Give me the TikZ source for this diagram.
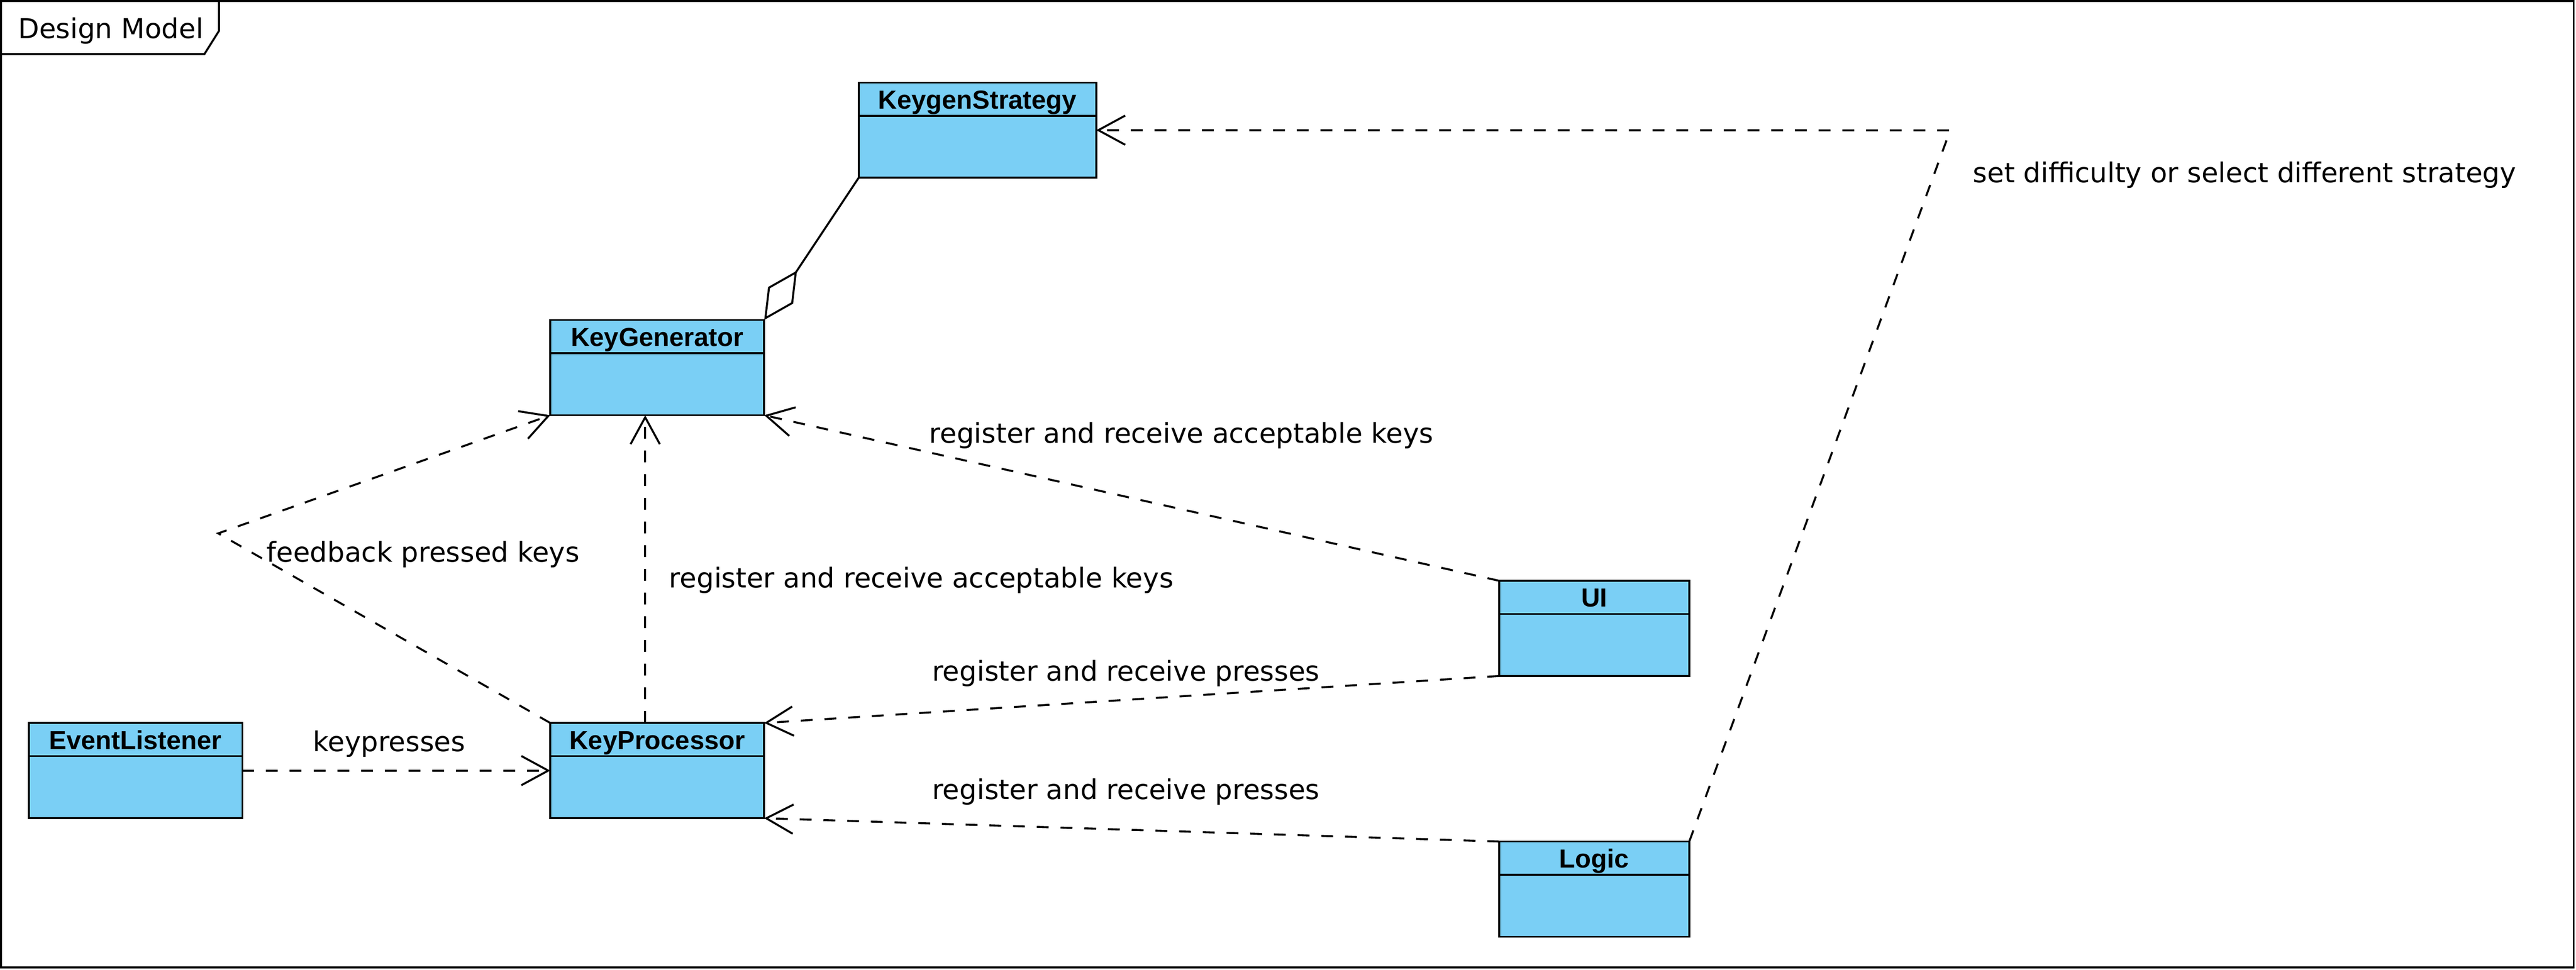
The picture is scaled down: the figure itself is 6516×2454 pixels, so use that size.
\documentclass[tikz,border=0pt]{standalone}
\usepackage{fontspec}
\setmainfont{DejaVu Sans}
\newfontfamily\clsfont{Liberation Sans}
\usetikzlibrary{arrows.meta}
\definecolor{clsblue}{RGB}{122,207,245}
\newcommand{\umlclass}[5]{%
  \node[cls, anchor=north west, minimum width=#4, minimum height=60.25pt] (#1) at (#2,#3) {};
  \draw[divline] ([yshift=-21pt]#1.north west) -- ([yshift=-21pt]#1.north east);
  \node[clsname] (#1-t) at ([yshift=-16.6pt]#1.north) {#5};
}
\begin{document}
\begin{tikzpicture}[x=0.25pt,y=-0.25pt,
  cls/.style={draw=black, fill=clsblue, line width=1.2pt, inner sep=0pt, outer sep=0pt, rectangle},
  divline/.style={draw=black, line width=1.1pt},
  clsname/.style={font=\clsfont\bfseries\fontsize{16.5pt}{19pt}\selectfont, inner sep=0pt, anchor=base},
  lbl/.style={font=\fontsize{17.3pt}{20pt}\selectfont, inner sep=0pt, anchor=base west},
  frameline/.style={draw=black, line width=1.25pt},
  dep/.style={draw=black, line width=1.25pt, dash pattern=on 7.5pt off 7.5pt,
    -{Straight Barb[length=17pt,width=18.5pt]}},
  agg/.style={draw=black, line width=1.25pt,
    -{Diamond[open,length=37.5pt,width=19pt]}}
]
\useasboundingbox (0,0) rectangle (6516,2454);
\fill[white] (0,0) rectangle (6516,2454);

% frame
\draw[frameline] (2.5,2.5) rectangle (6510,2448.5);
\draw[frameline] (554,2.5) -- (554,78) -- (517,137) -- (2.5,137);
\node[lbl] (title) at (45,97) {Design Model};

% classes
\umlclass{ks}{2172}{209}{150.25pt}{KeygenStrategy}
\umlclass{kg}{1392}{810}{135.25pt}{KeyGenerator}
\umlclass{kp}{1392}{1830}{135.25pt}{KeyProcessor}
\umlclass{el}{73}{1830}{135pt}{EventListener}
\umlclass{ui}{3792}{1470}{120.25pt}{UI}
\umlclass{lg}{3792}{2130}{120.25pt}{Logic}

% connectors
\draw[agg] (ks.south west) -- (kg.north east);
\coordinate (bendR) at (4933,330);
\draw[dep] (lg.north east) -- (bendR) -- (ks.east);
\coordinate (vx) at (1632,1400);
\draw[dep] (vx |- kp.north) -- (vx |- kg.south);
\draw[dep] (ui.north west) -- (kg.south east);
\coordinate (bendL) at (552,1350);
\draw[dep] (kp.north west) -- (bendL) -- (kg.south west);
\draw[dep] (ui.south west) -- (kp.north east);
\draw[dep] (lg.north west) -- (kp.south east);
\draw[dep] (el.east) -- (kp.west);

% labels
\node[lbl] (l1) at (4990,462) {set difficulty or select different strategy};
\node[lbl] (l2) at (2350,1122) {register and receive acceptable keys};
\node[lbl] (l3) at (1692,1488) {register and receive acceptable keys};
\node[lbl] (l4) at (674,1423) {feedback pressed keys};
\node[lbl] (l5) at (2357,1723) {register and receive presses};
\node[lbl] (l6) at (2357,2023) {register and receive presses};
\node[lbl] (l7) at (791,1902) {keypresses};
\end{tikzpicture}
\end{document}
